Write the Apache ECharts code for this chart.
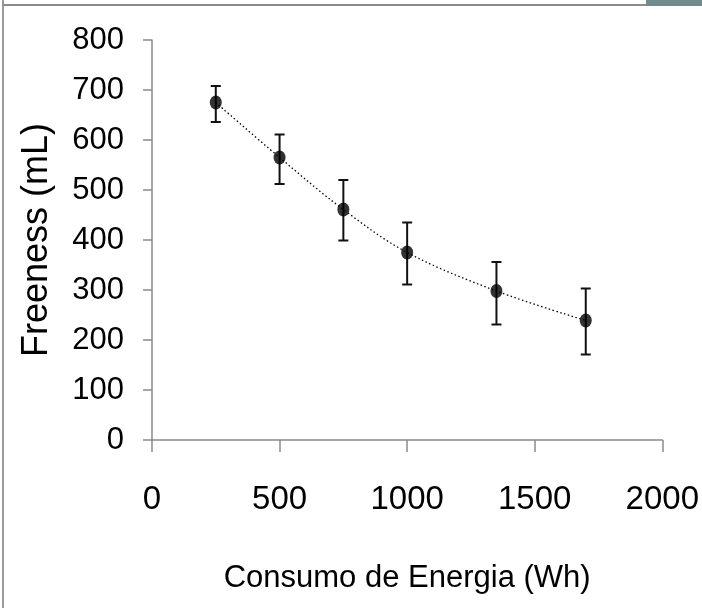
<!DOCTYPE html>
<html><head><meta charset="utf-8">
<script src="https://cdn.jsdelivr.net/npm/echarts@6/dist/echarts.min.js"></script>
<style>html,body{margin:0;padding:0;background:#fff}#c{width:702px;height:608px}</style>
</head><body><div id="c"></div>
<script>
const energy = [250, 500, 750, 1000, 1350, 1700];
const freeness = [675, 565, 461, 375, 298, 239];
const errLow = [636, 512, 399, 311, 231, 171];
const errHigh = [708, 611, 520, 435, 356, 303];
const xTicks = [0, 500, 1000, 1500, 2000];
const yTicks = [0, 100, 200, 300, 400, 500, 600, 700, 800];
const xName = 'Consumo de Energia (Wh)';
const yName = 'Freeness (mL)';

const FONT = '"Liberation Sans", Arial, sans-serif';
const pts = energy.map((x, i) => [x, freeness[i]]);
const errData = energy.map((x, i) => [x, errLow[i], errHigh[i]]);

const chart = echarts.init(document.getElementById('c'), null, {renderer: 'canvas'});
chart.setOption({
  animation: false,
  backgroundColor: '#fff',
  grid: {left: 152, top: 40, right: 39, bottom: 168},
  graphic: [
    {type: 'line', shape: {x1: 3, y1: 0, x2: 3, y2: 608}, style: {stroke: '#9a9a9a', lineWidth: 2}},
    {type: 'line', shape: {x1: 3, y1: 5, x2: 646, y2: 5}, style: {stroke: '#8c8c8c', lineWidth: 2}},
    {type: 'rect', shape: {x: 646, y: 0, width: 56, height: 6}, style: {fill: '#728a8b'}}
  ],
  xAxis: {
    type: 'value', min: 0, max: 2000, interval: 500,
    name: xName, nameLocation: 'middle', nameGap: 123,
    nameTextStyle: {fontFamily: FONT, fontSize: 31, color: '#000'},
    axisLine: {show: true, lineStyle: {color: '#8a8a8a', width: 1.5}},
    axisTick: {show: true, length: 12, lineStyle: {color: '#8a8a8a', width: 1.5}},
    axisLabel: {fontFamily: FONT, fontSize: 33, color: '#000', margin: 43,
      formatter: v => xTicks.includes(v) ? String(v) : ''},
    splitLine: {show: false}
  },
  yAxis: {
    type: 'value', min: 0, max: 800, interval: 100,
    name: yName, nameLocation: 'middle', nameGap: 97, nameRotate: 90,
    nameTextStyle: {fontFamily: FONT, fontSize: 36, color: '#000'},
    axisLine: {show: true, lineStyle: {color: '#8a8a8a', width: 1.5}},
    axisTick: {show: true, length: 9, lineStyle: {color: '#8a8a8a', width: 1.5}},
    axisLabel: {fontFamily: FONT, fontSize: 31, color: '#000', margin: 28,
      formatter: v => yTicks.includes(v) ? String(v) : ''},
    splitLine: {show: false}
  },
  series: [
    {
      type: 'line', data: pts, smooth: 0.35, showSymbol: false, z: 1,
      lineStyle: {color: '#000', width: 1.3, type: [1.5, 2.5]}
    },
    {
      type: 'custom', z: 2,
      renderItem: function (params, api) {
        const x = api.value(0);
        const lo = api.coord([x, api.value(1)]);
        const hi = api.coord([x, api.value(2)]);
        const w = 5;
        const st = {stroke: '#111', lineWidth: 2};
        return {type: 'group', children: [
          {type: 'line', shape: {x1: lo[0], y1: lo[1], x2: hi[0], y2: hi[1]}, style: st},
          {type: 'line', shape: {x1: lo[0] - w, y1: lo[1], x2: lo[0] + w, y2: lo[1]}, style: st},
          {type: 'line', shape: {x1: hi[0] - w, y1: hi[1], x2: hi[0] + w, y2: hi[1]}, style: st}
        ]};
      },
      encode: {x: 0, y: [1, 2]},
      data: errData
    },
    {
      type: 'scatter', data: pts, z: 3, symbol: 'circle', symbolSize: [12, 14],
      itemStyle: {color: '#000'}
    }
  ]
});
</script></body></html>
